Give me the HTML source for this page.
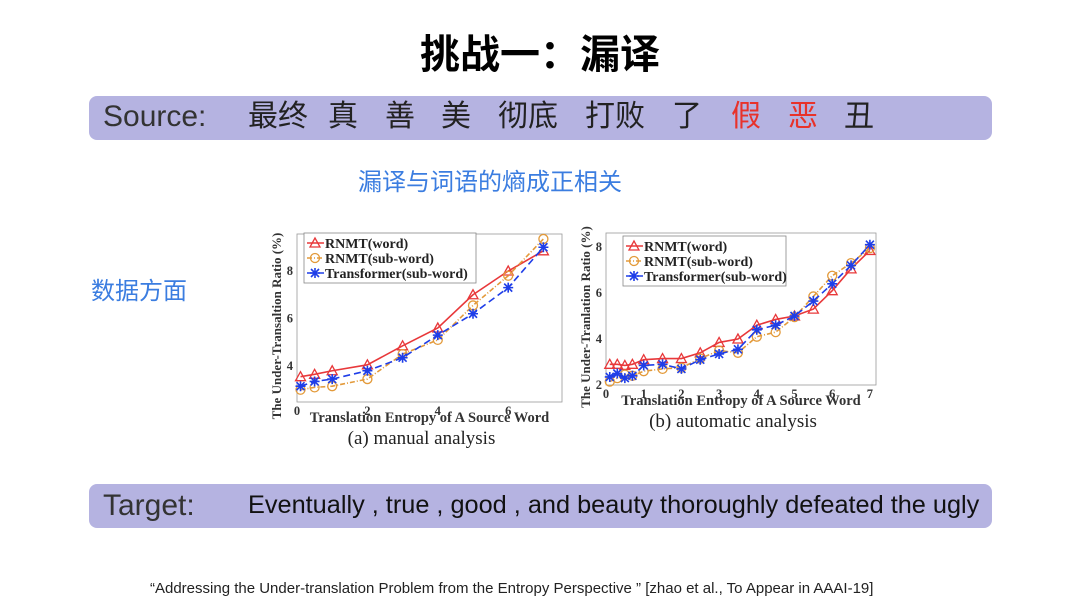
<!DOCTYPE html>
<html><head><meta charset="utf-8"><style>
body{margin:0;width:1080px;height:609px;background:#fff;position:relative;overflow:hidden;font-family:"Liberation Sans","Noto Sans CJK SC",sans-serif}
.a{position:absolute;white-space:nowrap}
.bar{position:absolute;left:89px;width:903px;height:44px;background:#b5b3e1;border-radius:8px}
.zh{font-size:30px;color:#222;top:97px;line-height:40px}
</style></head><body>
<div class="a" style="left:0;width:1080px;text-align:center;top:22px;font-size:40px;font-weight:bold;font-family:'Noto Sans CJK SC',sans-serif">挑战一：漏译</div>
<div class="bar" style="top:96px"></div>
<div class="a" style="left:103px;top:100px;font-size:30px;color:#333">Source:</div>
<div class="a zh" style="left:248px">最终</div>
<div class="a zh" style="left:328px">真</div>
<div class="a zh" style="left:385px">善</div>
<div class="a zh" style="left:441px">美</div>
<div class="a zh" style="left:498px">彻底</div>
<div class="a zh" style="left:585px">打败</div>
<div class="a zh" style="left:672px">了</div>
<div class="a zh" style="left:731px;color:#e8322a">假</div>
<div class="a zh" style="left:788px;color:#e8322a">恶</div>
<div class="a zh" style="left:844px">丑</div>
<div class="a" style="left:358px;top:162px;font-size:24px;color:#3b7de0">漏译与词语的熵成正相关</div>
<div class="a" style="left:91px;top:271px;font-size:24px;color:#3b7de0">数据方面</div>
<svg class="a" id="chart" style="left:0;top:0" width="1080" height="609"></svg>
<div class="bar" style="top:484px"></div>
<div class="a" style="left:103px;top:489px;font-size:30px;color:#333">Target:</div>
<div class="a" style="left:248px;top:491px;font-size:25.3px;color:#111">Eventually , true , good , and beauty thoroughly defeated the ugly</div>
<div class="a" style="left:150px;top:580px;font-size:15px;color:#222">“Addressing the Under-translation Problem from the Entropy Perspective ”  [zhao et al., To Appear in AAAI-19]</div>
<script>
const aX=[0.1,0.5,1,2,3,4,5,6,7];
const aWord=[3.55,3.65,3.8,4.05,4.85,5.6,7.0,8.0,8.85];
const aSub=[3.0,3.1,3.15,3.45,4.5,5.1,6.55,7.8,9.35];
const aTrans=[3.15,3.35,3.45,3.8,4.35,5.3,6.2,7.3,9.0];
const aXTicks=[0,2,4,6];
const aYTicks=[4,6,8];
const bX=[0.1,0.3,0.5,0.7,1,1.5,2,2.5,3,3.5,4,4.5,5,5.5,6,6.5,7];
const bWord=[2.9,2.9,2.85,2.9,3.1,3.15,3.15,3.4,3.85,4.0,4.6,4.85,5.0,5.3,6.1,7.05,7.85];
const bSub=[2.15,2.3,2.45,2.4,2.6,2.7,2.75,3.15,3.5,3.4,4.1,4.3,4.95,5.85,6.75,7.3,7.95];
const bTrans=[2.35,2.5,2.3,2.4,2.85,2.9,2.7,3.1,3.35,3.55,4.4,4.6,5.0,5.65,6.4,7.2,8.1];
const bXTicks=[0,1,2,3,4,5,6,7];
const bYTicks=[2,4,6,8];
const seriesNames=["RNMT(word)","RNMT(sub-word)","Transformer(sub-word)"];
const NS="http://www.w3.org/2000/svg";
const svg=document.getElementById('chart');
function mk(t,at,p){const e=document.createElementNS(NS,t);for(const k in at)e.setAttribute(k,at[k]);(p||svg).appendChild(e);return e;}
function marker(g,kind,x,y,col){
  if(kind==0){const e=mk('polygon',{points:`${x},${y-5} ${x-5},${y+4} ${x+5},${y+4}`,fill:'none',stroke:col,'stroke-width':1.3},g);}
  else if(kind==1){const e=mk('circle',{cx:x,cy:y,r:4.5,fill:'none',stroke:col,'stroke-width':1.3},g);}
  else{const e=mk('path',{d:`M${x-5},${y}H${x+5}M${x},${y-5}V${y+5}M${x-4},${y-4}L${x+4},${y+4}M${x-4},${y+4}L${x+4},${y-4}`,stroke:col,'stroke-width':1.6},g);}
}
function chart(cfg){
  const g=mk('g',{});
  
  
  const sx=v=>cfg.x0+(v-cfg.xmin)*cfg.kx, sy=v=>cfg.y0-(v-cfg.ymin)*cfg.ky;
  const box=mk('rect',{x:cfg.L,y:cfg.T,width:cfg.R-cfg.L,height:cfg.B-cfg.T,fill:'none',stroke:'#999','stroke-width':0.8},g);
  
  cfg.xt.forEach(v=>{const t=mk('text',{x:sx(v),y:cfg.B+13,'text-anchor':'middle','font-size':12.5,'font-weight':'bold','font-family':'Liberation Serif',fill:'#333'},g);t.textContent=v;});
  cfg.yt.forEach(v=>{const t=mk('text',{x:cfg.L-4,y:sy(v)+4,'text-anchor':'end','font-size':12.5,'font-weight':'bold','font-family':'Liberation Serif',fill:'#333'},g);t.textContent=v;});
  const xl=mk('text',{x:(cfg.L+cfg.R)/2,y:cfg.B+20,'text-anchor':'middle','font-size':14.5,'font-weight':'bold','font-family':'Liberation Serif',fill:'#333'},g);
  xl.textContent='Translation Entropy of A Source Word';
  const yl=mk('text',{x:0,y:0,transform:`translate(${cfg.L-16},${(cfg.T+cfg.B)/2+8}) rotate(-90)`,'text-anchor':'middle','font-size':13,'font-weight':'bold','font-family':'Liberation Serif',fill:'#333'},g);
  yl.textContent=cfg.ytitle;
  const cap=mk('text',{x:(cfg.L+cfg.R)/2-8,y:cfg.B+42,'text-anchor':'middle','font-size':19,'font-family':'Liberation Serif',fill:'#222'},g);
  cap.textContent=cfg.caption;
  const cols=['#e8383a','#e39a3a','#1f3ee8'],dash=['','5,2,1,2','7,4'];
  cfg.series.forEach((ys,i)=>{
    const l=mk('polyline',{points:cfg.xs.map((x,j)=>sx(x)+','+sy(ys[j])).join(' '),fill:'none',stroke:cols[i],'stroke-width':1.6,'stroke-dasharray':dash[i]},g);
    
    cfg.xs.forEach((x,j)=>marker(g,i,sx(x),sy(ys[j]),cols[i]));
  });
  const lg=mk('g',{},g);
  mk('rect',{x:cfg.lx,y:cfg.ly,width:cfg.lw,height:50,fill:'#fff',stroke:'#888','stroke-width':0.8},lg);
  seriesNames.forEach((n,i)=>{const y=cfg.ly+10+i*15;
    mk('line',{x1:cfg.lx+3,x2:cfg.lx+20,y1:y,y2:y,stroke:cols[i],'stroke-width':1.5,'stroke-dasharray':dash[i]},lg);
    marker(lg,i,cfg.lx+11,y,cols[i]);
    const t=mk('text',{x:cfg.lx+21,y:y+5,'font-size':14,'font-weight':'bold','font-family':'Liberation Serif',fill:'#222'},lg);t.textContent=n;
    });
}
chart({name:'chart-manual-analysis',xs:aX,series:[aWord,aSub,aTrans],xt:aXTicks,yt:aYTicks,xmin:0,ymin:4,x0:297,kx:35.2,y0:366,ky:23.75,L:297,R:562,T:234,B:402,lx:304,ly:233,lw:172,ytitle:'The Under-Transaltion Ratio (%)',caption:'(a) manual analysis'});
chart({name:'chart-automatic-analysis',xs:bX,series:[bWord,bSub,bTrans],xt:bXTicks,yt:bYTicks,xmin:0,ymin:2,x0:606,kx:37.7,y0:385,ky:23,L:606,R:876,T:233,B:385,lx:623,ly:236,lw:163,ytitle:'The Under-Tranlation Ratio (%)',caption:'(b) automatic analysis'});
</script>
</body></html>
